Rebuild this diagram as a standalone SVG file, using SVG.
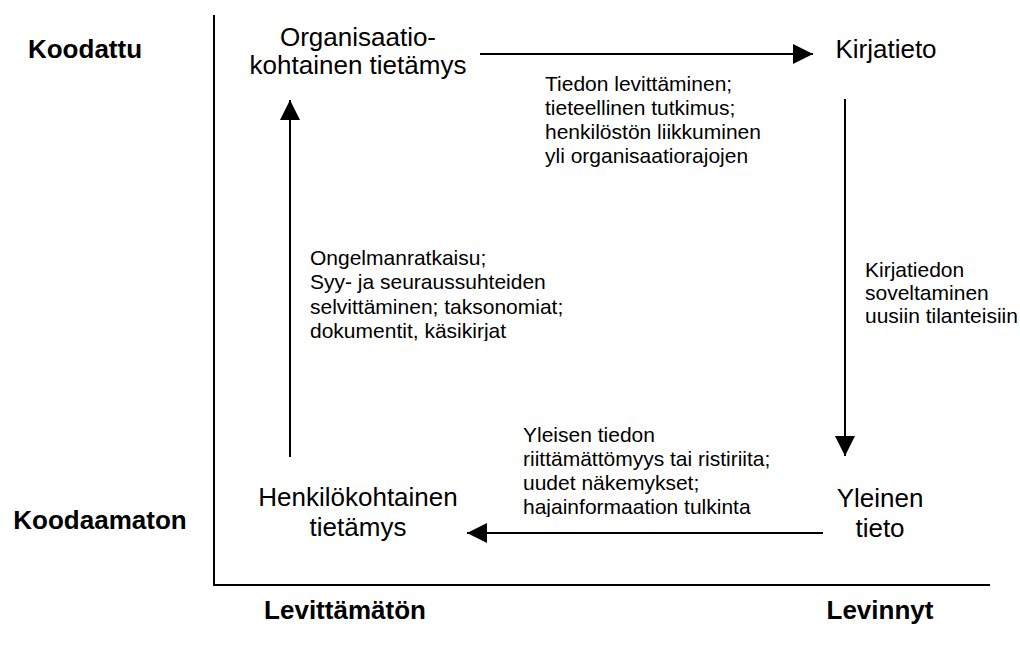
<svg xmlns="http://www.w3.org/2000/svg" width="1020" height="649" viewBox="0 0 1020 649">
  <style>
    text { font-family: "Liberation Sans", Arial, sans-serif; fill: #000; }
    .node { font-size: 26px; text-anchor: middle; }
    .lbl { font-size: 21px; }
    .axis-lbl { font-size: 26px; font-weight: bold; text-anchor: middle; }
    .axis { fill: none; stroke: #000; stroke-width: 2; }
    .conn { fill: none; stroke: #000; stroke-width: 2; marker-end: url(#arrow); }
  </style>
  <defs>
    <marker id="arrow" markerUnits="userSpaceOnUse" markerWidth="20" markerHeight="20" viewBox="0 0 20 20" refX="20" refY="10" orient="auto">
      <path d="M0,0 L20,10 L0,20 Z" fill="#000"/>
    </marker>
    <clipPath id="clip-left"><rect x="300" y="240" width="300" height="101"/></clipPath>
    <clipPath id="clip-bottom"><rect x="515" y="415" width="300" height="102"/></clipPath>
  </defs>
  <rect width="1020" height="649" fill="#fff"/>

  <g id="axes">
    <polyline class="axis" points="214,15 214,585 990,585"/>
    <text class="axis-lbl" x="85" y="58">Koodattu</text>
    <text class="axis-lbl" x="100" y="529">Koodaamaton</text>
    <text class="axis-lbl" x="345" y="619">Levittämätön</text>
    <text class="axis-lbl" x="880" y="619">Levinnyt</text>
  </g>

  <g id="connectors">
    <line class="conn" x1="480" y1="54" x2="813" y2="54"/>
    <line class="conn" x1="845" y1="99" x2="845" y2="456"/>
    <line class="conn" x1="823" y1="533" x2="467" y2="533"/>
    <line class="conn" x1="290" y1="457" x2="290" y2="100"/>
  </g>

  <g id="node-organisaatio">
    <text class="node" x="358" y="46">Organisaatio-</text>
    <text class="node" x="358" y="74">kohtainen tietämys</text>
  </g>
  <g id="node-kirjatieto">
    <text class="node" x="886" y="58">Kirjatieto</text>
  </g>
  <g id="node-henkilokohtainen">
    <text class="node" x="358" y="506">Henkilökohtainen</text>
    <text class="node" x="358" y="536">tietämys</text>
  </g>
  <g id="node-yleinen">
    <text class="node" x="880" y="507">Yleinen</text>
    <text class="node" x="880" y="537">tieto</text>
  </g>

  <g id="label-top">
    <text class="lbl" x="545" y="91">Tiedon levittäminen;</text>
    <text class="lbl" x="545" y="115">tieteellinen tutkimus;</text>
    <text class="lbl" x="545" y="139">henkilöstön liikkuminen</text>
    <text class="lbl" x="545" y="163">yli organisaatiorajojen</text>
  </g>
  <g id="label-right">
    <text class="lbl" x="865" y="277">Kirjatiedon</text>
    <text class="lbl" x="865" y="300">soveltaminen</text>
    <text class="lbl" x="865" y="323">uusiin tilanteisiin</text>
  </g>
  <g id="label-left" clip-path="url(#clip-left)">
    <text class="lbl" x="310" y="265">Ongelmanratkaisu;</text>
    <text class="lbl" x="310" y="289">Syy- ja seuraussuhteiden</text>
    <text class="lbl" x="310" y="314">selvittäminen; taksonomiat;</text>
    <text class="lbl" x="310" y="338">dokumentit, käsikirjat</text>
  </g>
  <g id="label-bottom" clip-path="url(#clip-bottom)">
    <text class="lbl" x="523" y="442">Yleisen tiedon</text>
    <text class="lbl" x="523" y="466">riittämättömyys tai ristiriita;</text>
    <text class="lbl" x="523" y="490">uudet näkemykset;</text>
    <text class="lbl" x="523" y="514">hajainformaation tulkinta</text>
  </g>
</svg>
